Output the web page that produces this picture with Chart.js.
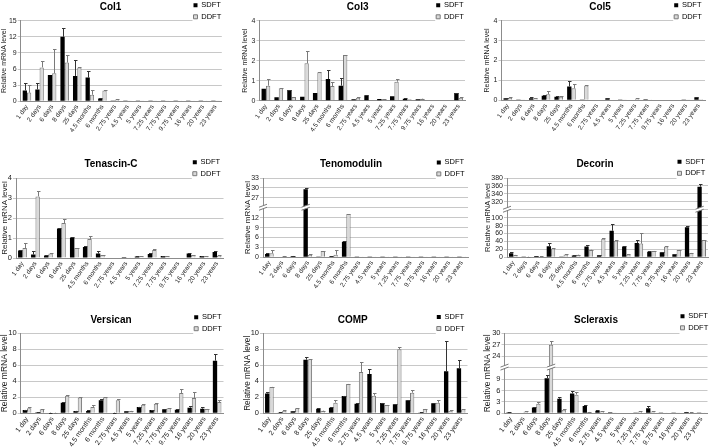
<!DOCTYPE html>
<html><head><meta charset="utf-8">
<script src="https://cdn.jsdelivr.net/npm/chart.js@4/dist/chart.umd.min.js"></script>
<style>
html,body{margin:0;padding:0;background:#fff;}
body{width:709px;height:448px;overflow:hidden;position:relative;}
canvas{position:absolute;}
</style></head><body>
<script>
// ---------- DATA ----------
const categories = ['1 day','2 days','6 days','8 days','25 days','4.5 months','6 months','2.75 years','4.5 years','5 years','7.25 years','7.75 years','9.75 years','16 years','20 years','23 years'];
const seriesNames = ['SDFT','DDFT'];
const yAxisTitle = 'Relative mRNA level';

const col1Sdft    = [2.0, 2.2, 4.9, 12.0, 4.7, 4.4, 0.5, 0.03, 0.02, 0.02, 0.02, 0.02, 0.02, 0.02, 0.02, 0.05];
const col1SdftErr = [1.3, 1.1, 0, 1.7, 3.0, 1.2, 0.1, 0, 0, 0, 0, 0, 0, 0, 0, 0];
const col1Ddft    = [1.6, 6.3, 5.2, 7.2, 6.3, 1.2, 2.0, 0.3, 0.03, 0.03, 0.05, 0.03, 0.02, 0.02, 0.02, 0.05];
const col1DdftErr = [1.4, 1.2, 4.6, 1.4, 0.1, 0.9, 0.1, 0.1, 0, 0, 0, 0, 0, 0, 0, 0];

const col3Sdft    = [0.6, 0.17, 0.53, 0.2, 0.38, 1.08, 0.75, 0.07, 0.27, 0.08, 0.22, 0.1, 0.07, 0.02, 0.02, 0.38];
const col3SdftErr = [0, 0, 0.03, 0, 0, 0.45, 0.37, 0, 0.02, 0, 0, 0.02, 0, 0, 0, 0.03];
const col3Ddft    = [0.75, 0.62, 0.18, 1.87, 1.42, 0.73, 2.28, 0.15, 0.03, 0.08, 0.95, 0.07, 0.1, 0.02, 0.01, 0.15];
const col3DdftErr = [0.32, 0.02, 0, 0.63, 0.02, 0.19, 0.02, 0.02, 0, 0.01, 0.15, 0, 0.01, 0, 0, 0.02];

const col5Sdft    = [0.1, 0.03, 0.1, 0.22, 0.17, 0.69, 0.03, 0.02, 0.1, 0.04, 0.02, 0.05, 0.02, 0.02, 0.01, 0.15];
const col5SdftErr = [0.02, 0, 0.08, 0.03, 0.03, 0.27, 0, 0, 0.02, 0, 0, 0, 0, 0, 0, 0.02];
const col5Ddft    = [0.12, 0.03, 0.1, 0.3, 0.17, 0.6, 0.74, 0.02, 0.02, 0.03, 0.08, 0.04, 0.02, 0.02, 0.01, 0.05];
const col5DdftErr = [0.02, 0, 0.03, 0.17, 0.02, 0.2, 0.02, 0, 0, 0, 0.02, 0, 0, 0, 0, 0];

const tnccSdft    = [0.38, 0.17, 0.13, 1.47, 1.03, 0.55, 0.22, 0.02, 0.05, 0.08, 0.2, 0.1, 0.02, 0.23, 0.1, 0.3];
const tnccSdftErr = [0.03, 0.16, 0.03, 0.03, 0.01, 0.05, 0.11, 0, 0, 0.01, 0.03, 0.02, 0, 0.02, 0.01, 0.05];
const tnccDdft    = [0.5, 3.08, 0.23, 1.75, 0.5, 0.95, 0.15, 0.02, 0.04, 0.07, 0.4, 0.08, 0.02, 0.15, 0.08, 0.12];
const tnccDdftErr = [0.25, 0.25, 0.03, 0.22, 0.02, 0.13, 0.02, 0, 0, 0.01, 0.03, 0.01, 0, 0.01, 0.01, 0.02];

const tnmdSdft    = [1.0, 0.2, 0.4, 29.6, 0.1, 0.3, 4.7, 0.02, 0.02, 0.05, 0.02, 0.02, 0.02, 0.02, 0.02, 0.02];
const tnmdSdftErr = [0.2, 0, 0.1, 0.3, 0, 0.1, 0.2, 0, 0, 0, 0, 0, 0, 0, 0, 0];
const tnmdDdft    = [1.2, 0.4, 0.2, 0.8, 1.9, 0.8, 13.1, 0.02, 0.02, 0.02, 0.02, 0.02, 0.02, 0.02, 0.02, 0.02];
const tnmdDdftErr = [1.0, 0.1, 0, 0.3, 0.1, 1.4, 0.1, 0, 0, 0, 0, 0, 0, 0, 0, 0];

const dcnSdft     = [10, 1, 3, 28, 1, 4.5, 27, 5, 67, 27, 36, 14, 12.5, 7.5, 76, 358];
const dcnSdftErr  = [4, 0, 1, 9, 0, 1.5, 3, 0.5, 17, 1, 8, 3, 0.5, 1, 3, 6];
const dcnDdft     = [6, 1.5, 2, 22, 7, 6.5, 19, 47, 42, 7, 34.5, 16, 27, 18.5, 11, 43.5];
const dcnDdftErr  = [0.5, 0.3, 0.2, 0.5, 0.5, 0.5, 0.5, 2, 0.5, 2, 27, 1, 2, 0.5, 0.5, 0.5];

const vcanSdft    = [0.42, 0.12, 0.07, 1.33, 0.3, 0.3, 1.62, 0.07, 0.25, 0.8, 0.4, 0.5, 0.45, 0.7, 0.58, 6.58];
const vcanSdftErr = [0.04, 0.02, 0.02, 0.05, 0.03, 0.1, 0.13, 0.01, 0.03, 0.05, 0.03, 0.08, 0.03, 0.22, 0.17, 0.88];
const vcanDdft    = [0.63, 0.5, 0.07, 2.2, 1.96, 0.8, 2.0, 1.62, 0.3, 1.08, 1.2, 0.62, 2.54, 1.92, 0.54, 1.42];
const vcanDdftErr = [0.12, 0.03, 0.01, 0.13, 0.03, 0.3, 0.04, 0.13, 0.02, 0.09, 0.05, 0.02, 0.54, 0.7, 0.05, 0.2];

const compSdft    = [2.46, 0.1, 0.25, 6.7, 0.58, 0.7, 2.17, 1.2, 4.92, 1.29, 1.12, 1.62, 0.1, 1.25, 5.25, 5.62];
const compSdftErr = [0.24, 0.02, 0.03, 0.38, 0.12, 0.05, 0.03, 0.05, 0.66, 0.05, 0.04, 0.1, 0.01, 0.08, 3.83, 1.0];
const compDdft    = [3.3, 0.33, 0.62, 6.75, 0.33, 1.33, 3.67, 5.17, 2.2, 1.04, 8.0, 2.58, 0.54, 1.33, 0.33, 0.5];
const compDdftErr = [0.05, 0.03, 0.03, 0.03, 0.02, 0.37, 0.03, 1.29, 0.3, 0.03, 0.33, 0.29, 0.03, 0.34, 0.05, 0.05];

const scxSdft     = [0.3, 0.15, 1.5, 9.2, 3.8, 5.2, 1.9, 0.7, 0.3, 0.15, 0.1, 1.3, 0.05, 0.1, 0.35, 0.1];
const scxSdftErr  = [0.05, 0, 0.2, 0.9, 0.4, 0.6, 0.3, 0.1, 0, 0, 0, 0.6, 0, 0, 0.1, 0];
const scxDdft     = [0.15, 0.45, 2.5, 27.0, 0.9, 4.9, 0.35, 0.55, 0.1, 0.15, 0.5, 0.45, 0.05, 0.1, 0.2, 0.08];
const scxDdftErr  = [0, 0.05, 0.5, 1.1, 0.2, 0.8, 0.05, 0.05, 0, 0, 0.05, 0.05, 0, 0, 0.02, 0];

// ---------- PANELS (data refs + axis settings) ----------
// brk: [bottom-segment top, top-segment start]  (axis break)
const panelData = [
  {name:'Col1',        s:col1Sdft, se:col1SdftErr, d:col1Ddft, de:col1DdftErr, max:15,  step:3,  brk:null},
  {name:'Col3',        s:col3Sdft, se:col3SdftErr, d:col3Ddft, de:col3DdftErr, max:4,   step:1,  brk:null},
  {name:'Col5',        s:col5Sdft, se:col5SdftErr, d:col5Ddft, de:col5DdftErr, max:4,   step:1,  brk:null},
  {name:'Tenascin-C',  s:tnccSdft, se:tnccSdftErr, d:tnccDdft, de:tnccDdftErr, max:4,   step:1,  brk:null},
  {name:'Tenomodulin', s:tnmdSdft, se:tnmdSdftErr, d:tnmdDdft, de:tnmdDdftErr, max:33,  step:3,  brk:[15,24]},
  {name:'Decorin',     s:dcnSdft,  se:dcnSdftErr,  d:dcnDdft,  de:dcnDdftErr,  max:380, step:20, brk:[120,300]},
  {name:'Versican',    s:vcanSdft, se:vcanSdftErr, d:vcanDdft, de:vcanDdftErr, max:10,  step:2,  brk:null},
  {name:'COMP',        s:compSdft, se:compSdftErr, d:compDdft, de:compDdftErr, max:10,  step:2,  brk:null},
  {name:'Scleraxis',   s:scxSdft,  se:scxSdftErr,  d:scxDdft,  de:scxDdftErr,  max:30,  step:3,  brk:[12,21]}
];

// ---------- LAYOUT (positions / sizes / fonts) ----------
const layout = [
  {box:[0,0,236,148],     plot:[20.7,221.8,20.7,101.2], title:[110.5,7.5],  leg:[195,5.3],   yTitleX:4,     yTick:7,   yTitle:7,   xTick:6.5},
  {box:[236,0,234,148],   plot:[259.5,465,20.7,100.7],  title:[357.7,7.5],  leg:[437.7,5.3], yTitleX:245.3, yTick:7,   yTitle:7,   xTick:6.5},
  {box:[470,0,239,148],   plot:[501.5,705,20.7,100.2],  title:[600,7.5],    leg:[675.7,5.3], yTitleX:487.3, yTick:7,   yTitle:7,   xTick:6.5},
  {box:[0,148,236,148],   plot:[16,223.5,178,258],      title:[111,164.7],  leg:[194.3,162.2], yTitleX:3.5, yTick:7.5, yTitle:8,   xTick:6.5},
  {box:[236,148,234,148], plot:[263,468,178,257.3],     title:[351,164.5],  leg:[438.3,162.4], yTitleX:247.5, yTick:7, yTitle:8,   xTick:6.5},
  {box:[470,148,239,148], plot:[507,708,178,257.3],     title:[595,164.5],  leg:[679,161.8], yTitleX:488,   yTick:7,   yTitle:7.5, xTick:6.5},
  {box:[0,296,236,152],   plot:[20.7,223.5,333.3,413.3],title:[111,320],    leg:[195.7,317.2], yTitleX:4,   yTick:7.5, yTitle:8.5, xTick:7},
  {box:[236,296,234,152], plot:[263,467.5,333.3,413.3], title:[352.7,320],  leg:[438.3,317],  yTitleX:247.7, yTick:7.5, yTitle:8.2, xTick:7},
  {box:[470,296,239,152], plot:[504.5,707.5,333.3,413.3],title:[596,320],   leg:[682,316.3], yTitleX:488,   yTick:7.5, yTitle:8.5, xTick:7}
];

Chart.defaults.font.family = "'Liberation Sans', Arial, Helvetica, sans-serif";
Chart.defaults.color = '#1a1a1a';

function makeChart(p, L) {
  const [x0, y0, w, h] = L.box;
  const [pl, pr, pt, pb] = L.plot;
  const cv = document.createElement('canvas');
  cv.width = w; cv.height = h;
  cv.style.left = x0 + 'px'; cv.style.top = y0 + 'px';
  cv.style.width = w + 'px'; cv.style.height = h + 'px';
  document.body.appendChild(cv);

  const off = p.brk ? p.brk[1] - p.brk[0] : 0;
  const disp = v => (p.brk && v > p.brk[0]) ? v - off : v;
  const tickLabel = d => {
    if (!p.brk || d < p.brk[0]) return String(d);
    if (d === p.brk[0]) return '';
    return String(d + off);
  };
  const dispMax = disp(p.max);

  const titleFont = 10, titleLH = titleFont * 1.2;
  const tTop = L.title[1] - y0 - titleLH / 2;
  const tBot = pt - y0 - tTop - titleLH;
  const yTitleLH = L.yTitle * 1.2;
  const yTitlePad = Math.max(0, L.yTitleX - x0 - yTitleLH / 2);
  const legPad = 4, legFont = 7.5, legBox = 4;

  const helper = {
    id: 'helper',
    afterLayout(chart) {
      const lg = chart.legend;
      if (lg) {
        lg.left = L.leg[0] - x0 - legPad - 1.5;
        lg.top = L.leg[1] - y0 - legFont / 2 - legPad;
        lg.right = lg.left + lg.width + 6;
        lg.bottom = lg.top + 2 * (legFont + legPad) + legPad + 6;
        lg.height = lg.bottom - lg.top;
      }
      const tb = chart.titleBlock;
      if (tb) {
        const cx = L.title[0] - x0;
        tb.left = cx - 60; tb.right = cx + 60; tb.width = 120;
      }
    },
    beforeDatasetsDraw(chart) {
      const lg = chart.legend, ctx = chart.ctx;
      ctx.save();
      ctx.fillStyle = '#ffffff';
      ctx.fillRect(lg.left + legPad - 1, lg.top + legPad - 1, lg.width - legPad + 4, 2 * legFont + legPad + 4);
      ctx.restore();
      lg.draw();
    },
    afterDatasetsDraw(chart) {
      const ctx = chart.ctx, ys = chart.scales.y, ca = chart.chartArea;
      const raws = [p.s, p.d], errs = [p.se, p.de], cols = ['#333333', '#7a7a7a'];
      ctx.save();
      ctx.lineWidth = 1;
      for (let i = 0; i < 2; i++) {
        const meta = chart.getDatasetMeta(i);
        meta.data.forEach((bar, j) => {
          const e = errs[i][j];
          if (!e) return;
          const yTop = Math.round(ys.getPixelForValue(disp(raws[i][j] + e))) + 0.5;
          const yBar = bar.y;
          const x = Math.round(bar.x) + 0.5;
          ctx.strokeStyle = cols[i];
          ctx.beginPath();
          ctx.moveTo(x, yBar); ctx.lineTo(x, yTop);
          ctx.moveTo(x - 1.5, yTop); ctx.lineTo(x + 2, yTop);
          ctx.stroke();
        });
      }
      if (p.brk) {
        const yb = ys.getPixelForValue(p.brk[0]);
        const mark = (xl, xr) => {
          ctx.fillStyle = '#ffffff';
          ctx.beginPath();
          ctx.moveTo(xl, yb + 2.5); ctx.lineTo(xr, yb - 0.5); ctx.lineTo(xr, yb - 3.5); ctx.lineTo(xl, yb - 0.5);
          ctx.closePath(); ctx.fill();
          ctx.strokeStyle = '#7a7a7a';
          ctx.beginPath();
          ctx.moveTo(xl, yb + 2.5); ctx.lineTo(xr, yb - 0.5);
          ctx.moveTo(xl, yb - 0.5); ctx.lineTo(xr, yb - 3.5);
          ctx.stroke();
        };
        mark(ca.left - 4, ca.left + 4);
        for (let i = 0; i < 2; i++) {
          const meta = chart.getDatasetMeta(i);
          meta.data.forEach((bar, j) => {
            if (raws[i][j] > p.brk[1]) mark(bar.x - bar.width / 2 - 2, bar.x + bar.width / 2 + 2);
          });
        }
      }
      ctx.restore();
    }
  };

  new Chart(cv, {
    type: 'bar',
    data: {
      labels: categories,
      datasets: [
        {label: seriesNames[0], data: p.s.map(disp), backgroundColor: '#000000', borderColor: '#000000', borderWidth: 0},
        {label: seriesNames[1], data: p.d.map(disp), backgroundColor: '#d9d9d9', borderColor: '#7a7a7a', borderWidth: 1}
      ]
    },
    options: {
      responsive: false, animation: false, devicePixelRatio: 1,
      layout: {padding: {left: 0, right: x0 + w - pr, top: 0, bottom: 0}},
      datasets: {bar: {categoryPercentage: 0.68, barPercentage: 1}},
      plugins: {
        title: {display: true, text: p.name, color: '#000', font: {size: titleFont, weight: 'bold'}, padding: {top: tTop, bottom: tBot}},
        legend: {display: true, position: 'chartArea', align: 'start',
          labels: {boxWidth: legBox, boxHeight: legBox, padding: legPad, color: '#000', font: {size: legFont}}},
        tooltip: {enabled: false}
      },
      scales: {
        x: {
          grid: {display: false, drawTicks: true, tickLength: 2},
          border: {display: true, color: '#8c8c8c', width: 1},
          ticks: {autoSkip: false, minRotation: 55, maxRotation: 55, padding: 0, color: '#1a1a1a', font: {size: L.xTick}},
          afterFit: s => { s.height = y0 + h - pb; }
        },
        y: {
          min: 0, max: dispMax,
          ticks: {stepSize: p.step, autoSkip: false, padding: 1, color: '#1a1a1a', font: {size: L.yTick}, callback: v => tickLabel(v)},
          grid: {color: '#c8c8c8', tickLength: 3, lineWidth: 1},
          border: {display: true, color: '#8c8c8c', width: 1},
          title: {display: true, text: yAxisTitle, color: '#1a1a1a', font: {size: L.yTitle}, padding: {top: yTitlePad, bottom: 0}},
          afterFit: s => { s.width = pl - x0; }
        }
      }
    },
    plugins: [helper]
  });
}

panelData.forEach((p, i) => makeChart(p, layout[i]));
</script>
</body></html>
